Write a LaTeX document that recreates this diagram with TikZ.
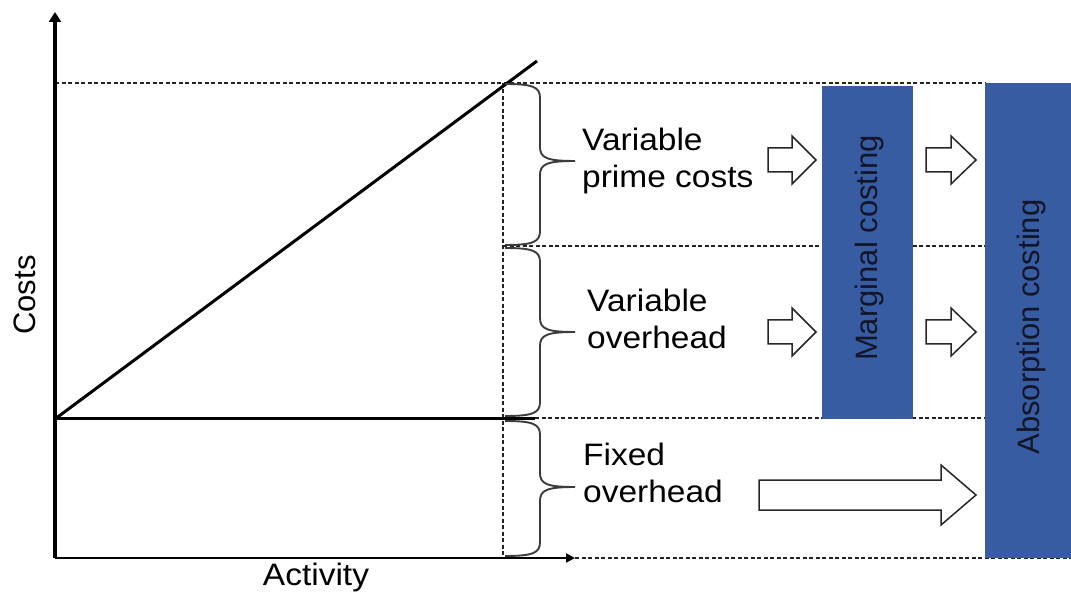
\documentclass[tikz,border=0pt]{standalone}
\usepackage{fontspec}
\setmainfont{Liberation Sans}
\usetikzlibrary{arrows.meta}

\definecolor{costblue}{RGB}{56,92,162}
\definecolor{guidegray}{RGB}{35,35,35}
\definecolor{bracegray}{RGB}{60,60,60}
\definecolor{boxtext}{RGB}{18,22,40}

% Hollow block arrow: tail x, head base x, tip x, centre y, shaft half height, head half height
\newcommand{\blockarrow}[6]{%
  \draw[hollowarrow] (#1,#4-#5) -- (#2,#4-#5) -- (#2,#4-#6) -- (#3,#4)
    -- (#2,#4+#6) -- (#2,#4+#5) -- (#1,#4+#5) -- cycle;}

% Curly brace opening to the right: top y, bottom y, tip y
\newcommand{\costbrace}[3]{%
  \draw[bracestyle] (505,#1) .. controls (533,#1) and (540,#1+3) .. (540,#1+14)
    -- (540,#3-14) .. controls (540,#3-3) and (547,#3) .. (575,#3)
    .. controls (547,#3) and (540,#3+3) .. (540,#3+14)
    -- (540,#2-14) .. controls (540,#2-3) and (533,#2) .. (505,#2);}

\begin{document}
\begin{tikzpicture}[x=1pt,y=-1pt,
  guide/.style={draw=guidegray,line width=1.1pt,dash pattern=on 4pt off 2.5pt},
  axis/.style={draw=black,line width=3.2pt},
  costline/.style={draw=black,line width=3pt},
  bracestyle/.style={draw=bracegray,line width=1.9pt},
  hollowarrow/.style={draw=black!85,fill=white,line width=1.5pt,line join=miter},
  costbox/.style={fill=costblue,draw=none,inner sep=0pt},
  label/.style={font=\fontsize{31}{36}\selectfont,inner sep=0pt,anchor=base west,text=black,xscale=1.08},
  boxlabel/.style={font=\fontsize{31}{36}\selectfont,inner sep=0pt,text=boxtext,rotate=90},
]
\useasboundingbox (0,0) rectangle (1071,601);

% dashed guide lines
\draw[guide] (55,83) -- (985,83);
\draw[guide] (503,83) -- (503,558);
\draw[guide] (503,246) -- (985,246);
\draw[guide] (535,418) -- (985,418);
\draw[guide] (575,558) -- (1071,558);

% axes
\coordinate (origin) at (55,558);
\coordinate (ytop) at (55,12);
\coordinate (xend) at (575,558);
\draw[axis,-{Triangle[width=12pt,length=10pt]}] (origin) -- (ytop);
\draw[draw=black,line width=2.8pt,-{Triangle[width=9pt,length=9pt]}] (origin) -- (xend);

% fixed and total cost lines
\coordinate (fixstart) at (55,419);
\coordinate (fixend) at (535,419);
\coordinate (totend) at (537,61);
\draw[costline] (fixstart) -- (fixend);
\draw[costline] (fixstart) -- (totend);

% axis titles
\node[font=\fontsize{31}{36}\selectfont,rotate=90,inner sep=0pt] (costs) at (25,295) {Costs};
\node[font=\fontsize{31}{36}\selectfont,inner sep=0pt,anchor=base,xscale=1.08] (activity) at (316,585) {Activity};

% braces
\costbrace{84}{245}{161}
\costbrace{248}{416}{332}
\costbrace{421}{556}{487}

% cost category labels
\node[label] (vpc1) at (582,151) {Variable};
\node[label] (vpc2) at (582,188) {prime costs};
\node[label] (vo1) at (587,312) {Variable};
\node[label] (vo2) at (587,349) {overhead};
\node[label] (fo1) at (583,465) {Fixed};
\node[label] (fo2) at (583,502) {overhead};

% costing method boxes
\node[costbox,minimum width=91pt,minimum height=333pt] (marginal) at (867.5,252.5) {};
\node[boxlabel] (margtext) at (869,248) {Marginal costing};
\node[costbox,minimum width=86pt,minimum height=475pt] (absorption) at (1028,320.5) {};
\node[boxlabel] (abstext) at (1031,327) {Absorption costing};

% hollow arrows
\blockarrow{768}{792}{816}{160}{12}{24}
\blockarrow{926}{951}{976}{160}{12}{24}
\blockarrow{768}{792}{816}{332}{12}{24}
\blockarrow{926}{951}{976}{332}{12}{24}
\blockarrow{759}{941}{976}{495}{15}{30}
\end{tikzpicture}
\end{document}
